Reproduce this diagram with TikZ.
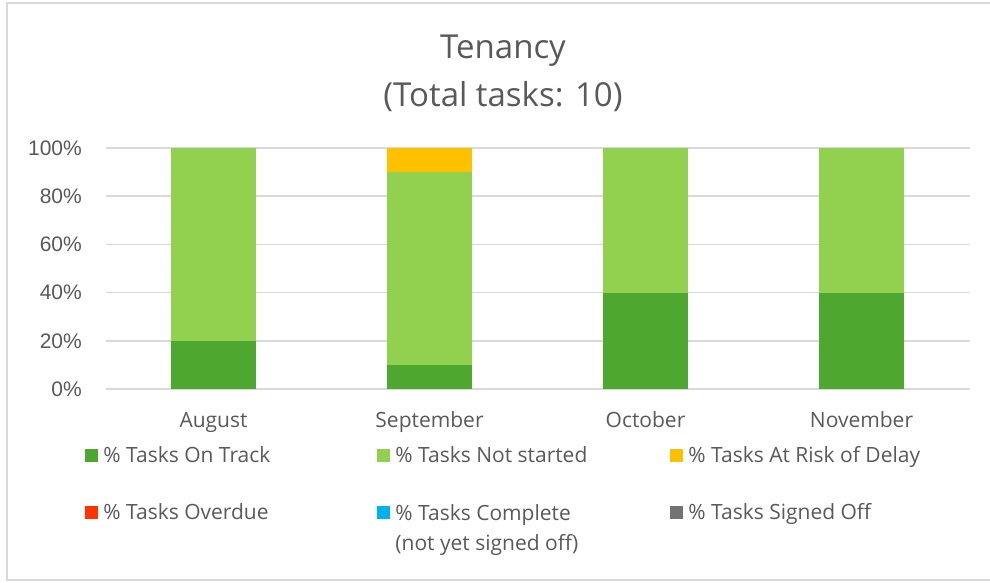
\documentclass[tikz,border=0pt]{standalone}
\usepackage{fontspec}
\setmainfont{Open Sans}
\newfontfamily\axisfont{Liberation Sans}
\usepackage{xcolor}
\usepackage{tikz}
\usetikzlibrary{positioning}
\definecolor{ontrack}{HTML}{4EA72E}
\definecolor{notstarted}{HTML}{92D050}
\definecolor{atrisk}{HTML}{FFC000}
\definecolor{overdue}{HTML}{FF3300}
\definecolor{complete}{HTML}{00B0F0}
\definecolor{signedoff}{HTML}{737373}
\definecolor{chtextgrey}{HTML}{595959}
\definecolor{chlinegrey}{HTML}{D9D9D9}
\tikzset{
  chframe/.style={line width=2pt, draw=chlinegrey},
  chgrid/.style={line width=1.5pt, draw=chlinegrey, line cap=butt},
  chtitle/.style={inner sep=0pt, text=chtextgrey, align=center, font=\fontsize{33}{48}\selectfont},
  chylab/.style={inner sep=0pt, anchor=east, text=chtextgrey, font=\axisfont\fontsize{21}{25}\selectfont},
  chxlab/.style={inner sep=0pt, anchor=base, text=chtextgrey, font=\fontsize{21}{25}\selectfont},
  chkey/.style={inner sep=0pt, minimum size=13pt, draw=none},
  chkeytext/.style={inner sep=0pt, text=chtextgrey, align=left, font=\fontsize{21}{30}\selectfont},
  chkeyline/.style={chkeytext, text height=18pt, text depth=3pt},
}

\begin{document}
\begin{tikzpicture}[x=1pt, y=-1pt]
\useasboundingbox (0,0) rectangle (990,582);
% outer frame
\draw[chframe] (990,3) -- (7,3) -- (7,580) -- (990,580);
% title
\node[chtitle, anchor=north] (title) at (503,35) {Tenancy\\(Total tasks: 10)};
% gridlines
\draw[chgrid] (106,148.0) -- (970,148.0);
\draw[chgrid] (106,196.2) -- (970,196.2);
\draw[chgrid] (106,244.4) -- (970,244.4);
\draw[chgrid] (106,292.6) -- (970,292.6);
\draw[chgrid] (106,340.8) -- (970,340.8);
\draw[chgrid] (106,389.0) -- (970,389.0);
% y axis
\node[chylab] (y100) at (82,148.0) {100\%};
\node[chylab] (y80) at (82,196.2) {80\%};
\node[chylab] (y60) at (82,244.4) {60\%};
\node[chylab] (y40) at (82,292.6) {40\%};
\node[chylab] (y20) at (82,340.8) {20\%};
\node[chylab] (y0) at (82,389.0) {0\%};
% bars
\fill[ontrack] (171,389.0) rectangle (256,340.8);
\fill[notstarted] (171,340.8) rectangle (256,148.0);
\fill[ontrack] (387,389.0) rectangle (472,364.9);
\fill[notstarted] (387,364.9) rectangle (472,172.1);
\fill[atrisk] (387,172.1) rectangle (472,148.0);
\fill[ontrack] (603,389.0) rectangle (688,292.6);
\fill[notstarted] (603,292.6) rectangle (688,148.0);
\fill[ontrack] (819,389.0) rectangle (904,292.6);
\fill[notstarted] (819,292.6) rectangle (904,148.0);
% months
\node[chxlab] (aug) at (213.5,427) {August};
\node[chxlab] (sep) at (429.5,427) {September};
\node[chxlab] (oct) at (645.5,427) {October};
\node[chxlab] (nov) at (861.5,427) {November};
% legend
\node[chkey, fill=ontrack] (kontrack) at (91.5,455) {};
\node[chkey, fill=notstarted] (knotstarted) at (383.5,455) {};
\node[chkey, fill=atrisk] (katrisk) at (676.5,455) {};
\node[chkey, fill=overdue] (koverdue) at (91.5,512) {};
\node[chkey, fill=complete] (kcomplete) at (383.5,512) {};
\node[chkey, fill=signedoff] (ksignedoff) at (676.5,512) {};
\node[chkeyline, right=5pt of kontrack] (tontrack) {\% Tasks On Track};
\node[chkeyline, right=5pt of knotstarted] (tnotstarted) {\% Tasks Not started};
\node[chkeyline, right=5pt of katrisk] (tatrisk) {\% Tasks At Risk of Delay};
\node[chkeyline, right=5pt of koverdue] (toverdue) {\% Tasks Overdue};
\node[chkeytext, anchor=north west] (tcomplete) at ([xshift=5pt, yshift=0.5pt]kcomplete.north east) {\% Tasks Complete\\(not yet signed off)};
\node[chkeyline, right=5pt of ksignedoff] (tsignedoff) {\% Tasks Signed Off};
\end{tikzpicture}
\end{document}
